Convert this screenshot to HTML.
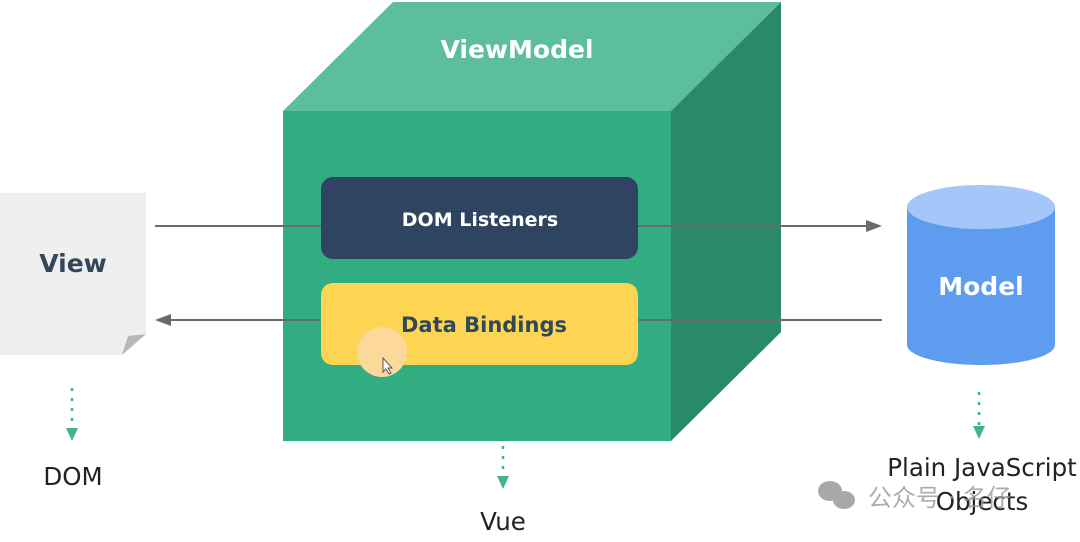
<!DOCTYPE html>
<html><head><meta charset="utf-8"><style>
html,body{margin:0;padding:0;background:#fff;}
svg{display:block;}
text{font-family:"DejaVu Sans","Liberation Sans",sans-serif;}
</style></head><body>
<svg width="1080" height="542" viewBox="0 0 1080 542" xmlns="http://www.w3.org/2000/svg">
<!-- cube -->
<polygon points="283,111 393,2 781,2 671,111" fill="#5dbe9b"/>
<polygon points="671,111 781,2 781,332 671,441" fill="#2a8a67"/>
<rect x="283" y="111" width="388" height="330" fill="#32ad82"/>
<text x="517" y="58" font-size="25" font-weight="bold" fill="#fff" text-anchor="middle">ViewModel</text>
<!-- lines -->
<line x1="155" y1="226" x2="872" y2="226" stroke="#666b70" stroke-width="2"/>
<polygon points="882,226 866,220 866,232" fill="#666b70"/>
<line x1="165" y1="320" x2="882" y2="320" stroke="#666b70" stroke-width="2"/>
<polygon points="155,320 171,314 171,326" fill="#666b70"/>
<!-- boxes -->
<rect x="321" y="177" width="317" height="82" rx="12" fill="#2f4460"/>
<text x="480" y="226" font-size="19" font-weight="bold" fill="#fff" text-anchor="middle">DOM Listeners</text>
<rect x="321" y="283" width="317" height="82" rx="12" fill="#fdd552"/>
<circle cx="382" cy="352" r="25" fill="#fcd89a"/>
<text x="484" y="332" font-size="21" font-weight="bold" fill="#33475b" text-anchor="middle">Data Bindings</text>
<polygon points="383,358 383,372 386,369 389,374 391,373 388,368 392,368" fill="#fff" stroke="#555" stroke-width="1"/>
<!-- view page -->
<polygon points="0,193 146,193 146,334 122,355 0,355" fill="#efefef"/>
<polygon points="146,334 122,355 128,336" fill="#b8b8b8"/>
<text x="73" y="272" font-size="25" font-weight="bold" fill="#33475b" text-anchor="middle">View</text>
<!-- cylinder -->
<rect x="907" y="207" width="148" height="138" fill="#5e9cf0"/>
<ellipse cx="981" cy="345" rx="74" ry="20" fill="#5e9cf0"/>
<ellipse cx="981" cy="207" rx="74" ry="22" fill="#a5c6f8"/>
<text x="981" y="295" font-size="25" font-weight="bold" fill="#fff" text-anchor="middle">Model</text>
<!-- dotted arrows -->
<g stroke="#3fb68a" stroke-width="2.5" stroke-dasharray="3,7">
<line x1="72" y1="388" x2="72" y2="428"/>
<line x1="503" y1="446" x2="503" y2="476"/>
<line x1="979" y1="392" x2="979" y2="426"/>
</g>
<g fill="#3fb68a">
<polygon points="66,428 78,428 72,441"/>
<polygon points="497,476 509,476 503,489"/>
<polygon points="973,426 985,426 979,439"/>
</g>
<g font-size="24.5" fill="#222" text-anchor="middle">
<text x="73" y="485">DOM</text>
<text x="503" y="530">Vue</text>
<text x="982" y="476">Plain JavaScript</text>
<text x="982" y="510">Objects</text>
</g>
<!-- watermark -->
<g fill="#9a9a9a" opacity="0.85">
<ellipse cx="830" cy="491" rx="12" ry="10"/>
<ellipse cx="844" cy="500" rx="11" ry="9"/>
</g>
<text x="868" y="506" font-size="24" fill="#999" opacity="0.8" font-family="'Noto Sans CJK SC',sans-serif">公众号 · 名仔</text>
</svg>
</body></html>
